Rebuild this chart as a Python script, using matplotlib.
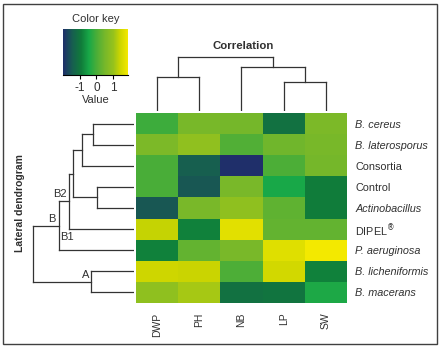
import numpy as np
import matplotlib
matplotlib.use("Agg")
import matplotlib.pyplot as plt
from matplotlib.colors import LinearSegmentedColormap
from matplotlib.patches import Rectangle

# données
rows = ["B. cereus", "B. laterosporus", "Consortia", "Control", "Actinobacillus",
        "DIPEL", "P. aeruginosa", "B. licheniformis", "B. macerans"]
italic_rows = [True, True, False, False, True, False, True, True, True]
cols = ["DWP", "PH", "NB", "LP", "SW"]

vals = np.array([
    [-0.10, 0.54, 0.50, -1.10, 0.60],
    [0.60, 0.92, 0.10, 0.45, 0.54],
    [0.00, -1.42, -2.00, 0.03, 0.50],
    [0.00, -1.50, 0.55, -0.44, -0.90],
    [-1.50, 0.55, 0.90, 0.25, -0.90],
    [1.38, -0.85, 1.70, 0.30, 0.30],
    [-0.85, 0.30, 0.55, 1.65, 1.90],
    [1.45, 1.40, 0.05, 1.50, -0.85],
    [0.90, 1.15, -1.10, -1.05, -0.40],
])

# dendrogrammes (fusions, hauteurs)
row_merges = [(0, 1), (9, 2), (3, 4), (10, 11), (12, 5), (13, 6), (7, 8), (14, 15)]
row_heights = [41, 52, 37, 61, 65, 75, 43, 101]
col_merges = [(0, 1), (3, 4), (2, 6), (5, 7)]
col_heights = [34, 29, 44, 54]

vmin, vmax = -2.0, 1.9
cmap = LinearSegmentedColormap.from_list("key", [
    (0.00, "#1f2f6a"), (0.15, "#17604f"), (0.28, "#107c3a"), (0.40, "#18a848"),
    (0.52, "#4cae38"), (0.65, "#78b82a"), (0.78, "#98c31c"), (0.88, "#cdd600"),
    (1.00, "#f3e900")])

plt.rcParams['font.family'] = ['Liberation Sans', 'DejaVu Sans']
txt = "#303030"
W, H = 446, 351

def box(x0, y0, x1, y1):
    return [x0 / W, 1 - y1 / H, (x1 - x0) / W, (y1 - y0) / H]

fig = plt.figure(figsize=(W / 100, H / 100), dpi=100)
fig.add_artist(Rectangle((3 / W, 1 - 344 / H), 434 / W, 340 / H, transform=fig.transFigure,
                         fill=False, lw=1.0, ec="#404040"))

# heatmap
ax = fig.add_axes(box(136, 113, 347, 303))
ax.imshow(vals, cmap=cmap, vmin=vmin, vmax=vmax, aspect="auto", interpolation="nearest")
for s in ax.spines.values():
    s.set_visible(False)
ax.set_xticks(range(len(cols)))
ax.set_xticklabels(cols, rotation=90, fontsize=7.5, color=txt)
ax.set_yticks(range(len(rows)))
labs = []
for r in rows:
    labs.append(r + "$^{\u00ae}$" if r == "DIPEL" else r)
ax.set_yticklabels(labs, fontsize=7.8, color=txt)
ax.yaxis.tick_right()
for tk, it in zip(ax.yaxis.get_major_ticks(), italic_rows):
    if it:
        tk.label1.set_style("italic")
        tk.label2.set_style("italic")
ax.tick_params(length=0)
ax.tick_params(axis="y", pad=6)
ax.tick_params(axis="x", pad=7)


def dendro(ax, merges, heights, n, side):
    pos = {i: float(i) for i in range(n)}
    hgt = {i: 0.0 for i in range(n)}
    for k, ((a, b), h) in enumerate(zip(merges, heights)):
        for c in (a, b):
            if side == "left":
                ax.plot([hgt[c], h], [pos[c], pos[c]], color="#333333", lw=0.9)
            else:
                ax.plot([pos[c], pos[c]], [hgt[c], h], color="#333333", lw=0.9)
        if side == "left":
            ax.plot([h, h], [pos[a], pos[b]], color="#333333", lw=0.9)
        else:
            ax.plot([pos[a], pos[b]], [h, h], color="#333333", lw=0.9)
        pos[n + k] = (pos[a] + pos[b]) / 2
        hgt[n + k] = h
    ax.axis("off")
    return pos, hgt


# dendrogramme des lignes
axr = fig.add_axes(box(30, 113, 134, 303))
pos, hgt = dendro(axr, row_merges, row_heights, len(rows), "left")
axr.set_xlim(104, 0)
axr.set_ylim(len(rows) - 0.5, -0.5)
for node, lab, dx, dy, ha, va in [(13, "B2", -1.5, 2, "right", "bottom"),
                                  (14, "B", -2.5, 1.5, "right", "bottom"),
                                  (14, "B1", 1, -4.5, "left", "top"),
                                  (15, "A", -1.5, 1.5, "right", "bottom")]:
    axr.annotate(lab, (hgt[node], pos[node]), xytext=(dx, dy), textcoords="offset points",
                 ha=ha, va=va, fontsize=8, color=txt)

# dendrogramme des colonnes
axc = fig.add_axes(box(136, 55, 347, 111))
dendro(axc, col_merges, col_heights, len(cols), "top")
axc.set_xlim(-0.5, len(cols) - 0.5)
axc.set_ylim(0, 56)

fig.text(243 / W, 1 - 46 / H, "Correlation", ha="center", va="center",
         fontsize=8.2, fontweight="bold", color=txt)
fig.text(20 / W, 1 - 203 / H, "Lateral dendrogram", ha="center", va="center",
         rotation=90, fontsize=7.5, fontweight="bold", color=txt)

# clé de couleurs
axk = fig.add_axes(box(63, 29, 128, 75))
grad = np.linspace(vmin, vmax, 256)[None, :]
axk.imshow(grad, cmap=cmap, vmin=vmin, vmax=vmax, aspect="auto",
           extent=(vmin, vmax, 0, 1))
axk.set_yticks([])
axk.set_xticks([-1, 0, 1])
axk.set_xticklabels(["-1", "0", "1"], fontsize=8.5, color=txt)
axk.tick_params(axis="x", length=3, width=0.8, pad=2)
for k in ["left", "right", "top"]:
    axk.spines[k].set_visible(False)
axk.spines["bottom"].set_linewidth(0.8)
axk.set_title("Color key", fontsize=8, color=txt, pad=5)
axk.set_xlabel("Value", fontsize=8, color=txt, labelpad=1)

fig.savefig("out.png", dpi=100)
